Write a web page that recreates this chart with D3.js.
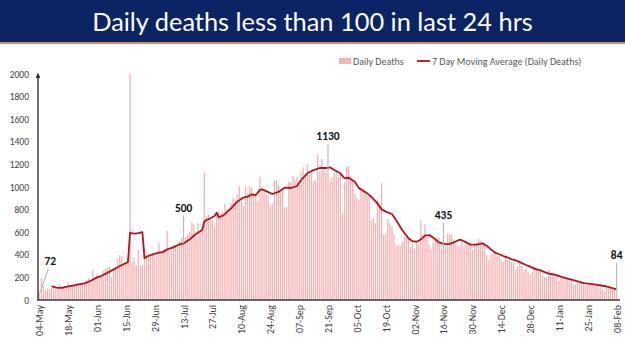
<!DOCTYPE html>
<html>
<head>
<meta charset="utf-8">
<script src="https://cdn.jsdelivr.net/npm/d3@7"></script>
<style>
  body { margin: 0; background: #fff; }
  svg text { font-family: Carlito, Lato, sans-serif; }
</style>
</head>
<body>
<svg id="chart" width="625" height="351"></svg>
<script>
// daily deaths, one array per month, first value = 04-May-2020
var deathsMay = [72,195,126,89,103,95,111,97,87,122,134,100,120,120,157,134,140,132,148,137,147,154,146,170,194,175,265,193];
var deathsJun = [230,204,217,260,273,287,294,206,266,279,357,396,386,311,325,380,2003,336,375,306,445,306,312,465,418,407,384,410,380,418];
var deathsJul = [507,434,442,442,613,425,467,482,487,475,519,551,500,553,582,606,687,671,543,681,587,648,1129,740,757,705,708,654,775,779,764];
var deathsAug = [779,853,803,806,857,904,886,933,1007,871,834,1007,942,1007,996,941,944,876,1092,977,983,944,912,836,848,1059,1065,1021,948,971,819];
var deathsSep = [819,1045,1043,1096,1065,1089,1016,1133,1172,1115,1201,1114,1132,1054,1054,1290,1132,1247,1174,1133,1130,1053,1085,1129,1141,1089,1124,776,1039,1179];
var deathsOct = [1181,1095,1069,940,903,884,986,971,964,918,918,706,730,680,895,837,1033,579,587,717,680,650,578,480,488,480,517,563,551,543,470];
var deathsNov = [496,449,514,490,704,577,670,559,490,448,512,547,554,550,511,435,474,584,585,577,511,497,480,488,524,482,518,496,511,443];
var deathsDec = [482,501,540,524,512,493,396,355,402,411,442,387,391,356,336,387,355,347,338,341,264,300,333,306,251,279,251,226,251,299,286];
var deathsJan = [264,251,217,201,201,264,234,224,228,214,168,201,202,175,191,175,181,145,137,162,151,162,163,127,131,123,131,123,127,117,127];
var deathsFeb = [94,78,107,120,108,87,95,84];

// 7 day moving average (day number from 04-May, value)
var maDay   = [6,8,11,14,17,19,22,25,28,30,33,35,38,40,43,44,46,48,50,51,52,55,58,60,62,65,68,70,73,76,79,80,81,83,85,86,87,89,90,92,93,96,99,101,103,105,107,108,110,113,116,119,122,125,127,130,133,136,139,141,143,146,148,150,153,155,159,161,164,166,168,171,173,176,179,181,183,185,187,189,191,194,197,199,201,204,206,209,212,215,217,219,221,223,225,227,229,231,233,236,238,240,243,246,248,250,254,259,264,269,274,277,280];
var maValue = [122,110,107,120,130,138,147,170,200,212,240,260,290,310,335,595,588,592,600,370,383,404,419,424,448,466,493,501,537,584,619,693,708,723,743,773,732,746,760,796,811,870,906,914,935,929,975,980,964,938,956,994,991,1009,1062,1121,1150,1168,1168,1174,1150,1121,1077,1082,1047,990,944,914,855,802,782,761,708,619,546,520,516,535,570,575,552,507,494,497,510,535,520,490,490,501,480,448,419,405,389,378,360,350,335,310,295,278,262,240,230,225,200,175,150,139,124,109,94];

var tickLabels = ["04-May","18-May","01-Jun","15-Jun","29-Jun","13-Jul","27-Jul","10-Aug","24-Aug","07-Sep","21-Sep","05-Oct","19-Oct","02-Nov","16-Nov","30-Nov","14-Dec","28-Dec","11-Jan","25-Jan","08-Feb"];
var yTicks = [0,200,400,600,800,1000,1200,1400,1600,1800,2000];

// highlighted days with their callout text
var calloutDay  = [0, 70, 140, 196, 280];
var calloutText = ["72", "500", "1130", "435", "84"];

var deaths = [].concat(deathsMay, deathsJun, deathsJul, deathsAug, deathsSep,
                       deathsOct, deathsNov, deathsDec, deathsJan, deathsFeb);
var startDate = new Date(2020, 4, 4);
function dayDate(i){ return d3.timeDay.offset(startDate, i); }

var svg = d3.select("#chart");

// title banner
svg.append("rect").attr("x", 0).attr("y", 0).attr("width", 625).attr("height", 42)
   .style("fill", "#0b2463");
svg.append("rect").attr("x", 0).attr("y", 42).attr("width", 625).attr("height", 2)
   .style("fill", "#d9895a");
var title = svg.append("text")
   .attr("x", 312.5).attr("y", 31)
   .attr("text-anchor", "middle")
   .style("font-family", "Lato, sans-serif")
   .style("font-size", "26px")
   .style("fill", "#fff")
   .text("Daily deaths less than 100 in last 24 hrs");
var tw = title.node().getComputedTextLength();
title.style("font-size", (26 * 441 / tw) + "px");

var xScale = d3.scaleTime()
   .domain([startDate, dayDate(deaths.length - 1)])
   .range([39.3, 616.7]);
var yScale = d3.scaleLinear()
   .domain([0, 2000])
   .range([300, 74]);

var barW = 1.3;

// bars
svg.append("g").selectAll("rect").data(deaths).enter().append("rect")
   .attr("x", function(d, i){ return xScale(dayDate(i)) - barW / 2; })
   .attr("y", function(d){ return yScale(d); })
   .attr("width", barW)
   .attr("height", function(d){ return yScale(0) - yScale(d); })
   .style("fill", "#f4b3b3");

// moving average line
var maPts = maDay.map(function(d, i){ return {day: d, v: maValue[i]}; });
var line = d3.line()
   .x(function(d){ return xScale(dayDate(d.day)); })
   .y(function(d){ return yScale(d.v); });
svg.append("path").datum(maPts)
   .attr("d", line)
   .style("fill", "none")
   .style("stroke", "#b8121c")
   .style("stroke-width", 1.8)
   .style("stroke-linejoin", "round");

// y axis
var yAxis = d3.axisLeft(yScale).tickValues(yTicks).tickSize(0).tickPadding(9)
   .tickFormat(d3.format("d"));
var gy = svg.append("g").attr("transform", "translate(38,0)").call(yAxis);
gy.select(".domain").remove();
gy.selectAll("text").style("font-size", "9.5px").style("fill", "#404040")
   .style("font-family", "Carlito, Lato, sans-serif");
svg.append("line").attr("x1", 38).attr("x2", 38).attr("y1", 300).attr("y2", 76)
   .style("stroke", "#262626").style("stroke-width", 1.3);
svg.append("path").attr("d", "M35.8,78 L38,72.5 L40.2,78 Z").style("fill", "#262626");

// x axis
var tickDates = d3.timeDay.range(startDate, d3.timeDay.offset(dayDate(deaths.length - 1), 1), 14);
var xAxis = d3.axisBottom(xScale).tickValues(tickDates).tickSize(0)
   .tickFormat(function(d, i){ return tickLabels[i]; });
var gx = svg.append("g").attr("transform", "translate(0,300)").call(xAxis);
gx.select(".domain").remove();
gx.selectAll("text")
   .attr("transform", "rotate(-90)")
   .attr("x", -5).attr("y", 0).attr("dy", "0.34em")
   .style("text-anchor", "end")
   .style("font-size", "10px").style("fill", "#404040")
   .style("font-family", "Carlito, Lato, sans-serif");
svg.append("line").attr("x1", 37).attr("x2", 620).attr("y1", 300).attr("y2", 300)
   .style("stroke", "#3a3a3a").style("stroke-width", 1.5);

// callouts
calloutDay.forEach(function(day, i){
  var v = deaths[day];
  var bx = xScale(dayDate(day)), by = yScale(v);
  var lx = (i === 0) ? bx + 11 : bx;
  var ly = by - 32;
  if (i === 0) ly = by - 27;
  svg.append("line")
     .attr("x1", i === 0 ? lx - 2 : bx).attr("y1", ly + 4)
     .attr("x2", i === 0 ? bx + 1 : bx).attr("y2", by)
     .style("stroke", "#b0b0b0").style("stroke-width", 1);
  svg.append("text")
     .attr("x", lx).attr("y", ly)
     .attr("text-anchor", "middle")
     .style("font-size", "11.5px").style("font-weight", "bold").style("fill", "#111")
     .style("font-family", "Carlito, Lato, sans-serif")
     .text(calloutText[i]);
});

// legend
var lg = svg.append("g").style("font-size", "10px").style("fill", "#595959");
lg.append("rect").attr("x", 339).attr("y", 58).attr("width", 12).attr("height", 6)
  .style("fill", "#f4b3b3");
lg.append("text").attr("x", 353).attr("y", 64.5).text("Daily Deaths");
lg.append("line").attr("x1", 417).attr("x2", 430).attr("y1", 61).attr("y2", 61)
  .style("stroke", "#b8121c").style("stroke-width", 1.8);
lg.append("text").attr("x", 432).attr("y", 64.5).text("7 Day Moving Average (Daily Deaths)");
</script>
</body>
</html>
